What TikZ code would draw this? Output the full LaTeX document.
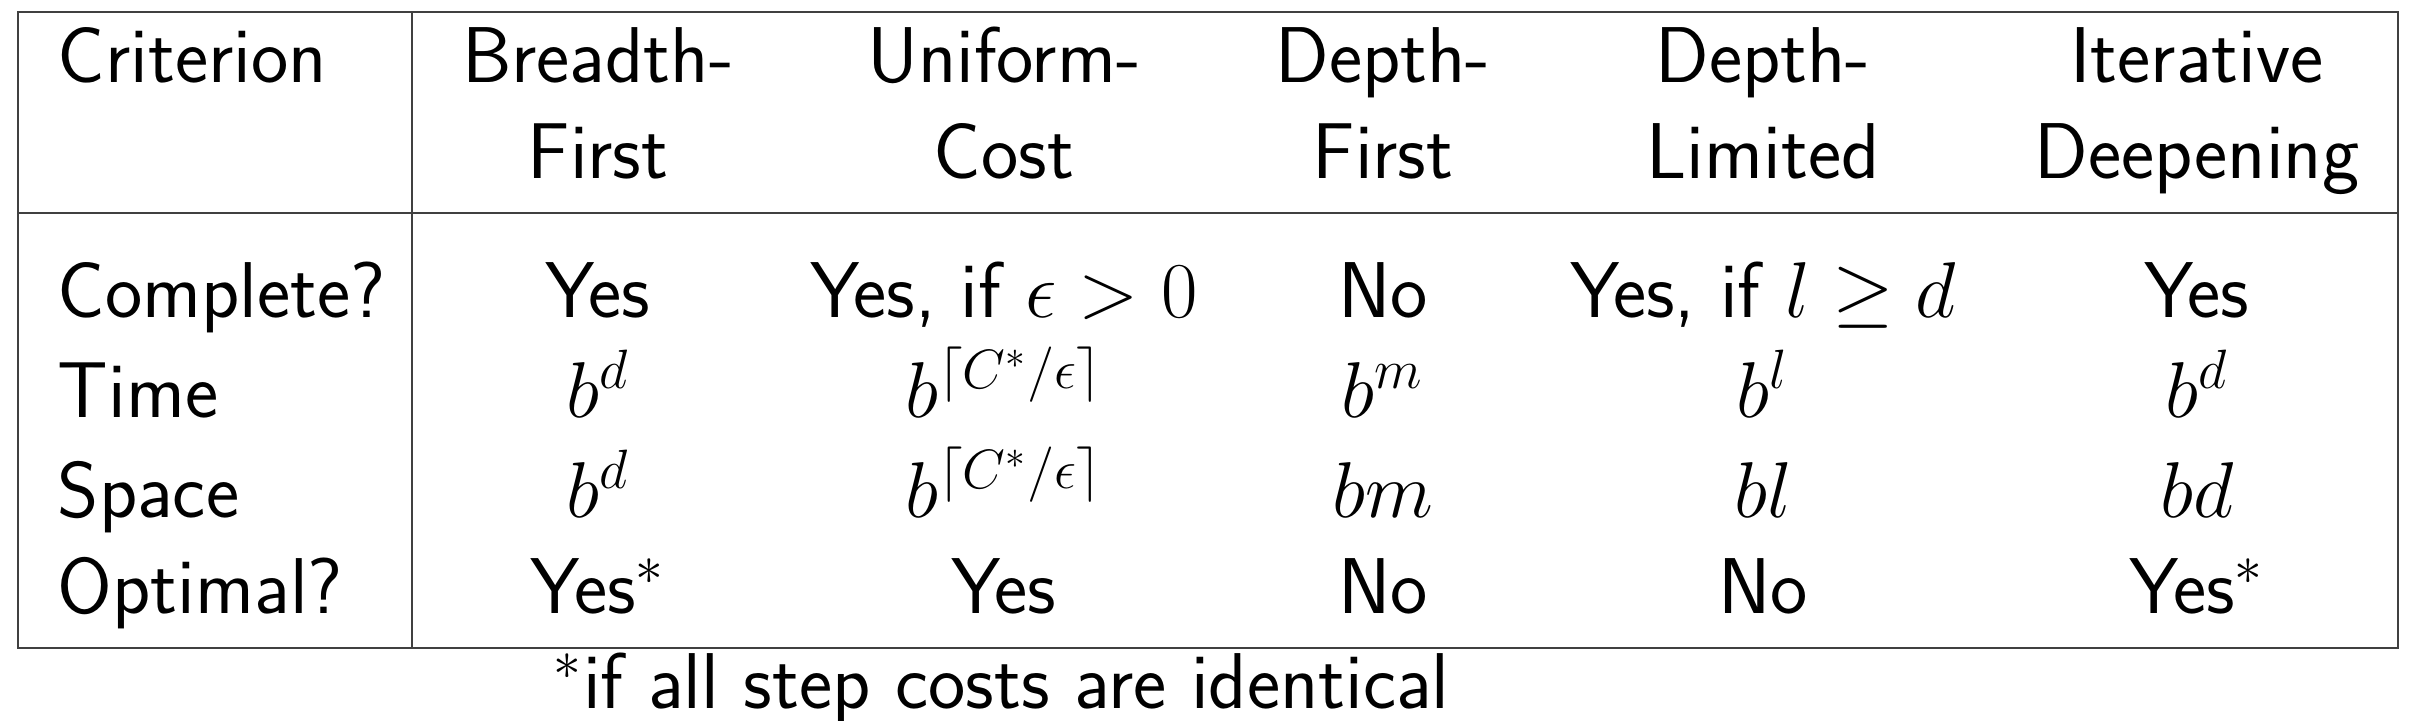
\RequirePackage{fix-cm}
\documentclass[tikz,border=0pt]{standalone}
\begin{document}
\tikzset{
  txt/.style={inner sep=0pt, anchor=base, font=\sffamily\fontsize{22.5}{27}\selectfont},
  lbl/.style={txt, anchor=base west},
  rule/.style={draw=black!75, line width=0.6pt}
}
\begin{tikzpicture}[x=0.01cm,y=-0.01cm]
\useasboundingbox (0,0) rectangle (2410,720);
% frame
\coordinate (tl) at (18,12);
\coordinate (br) at (2398,648);
\coordinate (hl) at (18,213);
\coordinate (hr) at (2398,213);
\coordinate (vt) at (412,12);
\coordinate (vb) at (412,648);
\draw[rule] (tl) rectangle (br);
\draw[rule] (hl) -- (hr);
\draw[rule] (vt) -- (vb);
% header
\node[lbl] (crit) at (57,82) {Criterion};
\node[txt] (bf1) at (598,82) {Breadth-};
\node[txt] (bf2) at (598,178) {First};
\node[txt] (uc1) at (1004,82) {Uniform-};
\node[txt] (uc2) at (1004,178) {Cost};
\node[txt] (df1) at (1383,82) {Depth-};
\node[txt] (df2) at (1383,178) {First};
\node[txt] (dl1) at (1763,82) {Depth-};
\node[txt] (dl2) at (1763,178) {Limited};
\node[txt] (id1) at (2197,82) {Iterative};
\node[txt] (id2) at (2197,178) {Deepening};
% row labels
\node[lbl] (r1) at (57,317) {Complete?};
\node[lbl] (r2) at (57,417) {Time};
\node[lbl] (r3) at (57,517) {Space};
\node[lbl] (r4) at (57,613) {Optimal?};
% Complete?
\node[txt] (c11) at (598,317) {Yes};
\node[txt] (c12) at (1004,317) {Yes, if $\epsilon > 0$};
\node[txt] (c13) at (1383,317) {No};
\node[txt] (c14) at (1763,317) {Yes, if $l \geq d$};
\node[txt] (c15) at (2197,317) {Yes};
% Time
\node[txt] (c21) at (598,417) {$b^d$};
\node[txt] (c22) at (1004,417) {$b^{\lceil C^*/\epsilon\rceil}$};
\node[txt] (c23) at (1383,417) {$b^m$};
\node[txt] (c24) at (1763,417) {$b^l$};
\node[txt] (c25) at (2197,417) {$b^d$};
% Space
\node[txt] (c31) at (598,517) {$b^d$};
\node[txt] (c32) at (1004,517) {$b^{\lceil C^*/\epsilon\rceil}$};
\node[txt] (c33) at (1383,517) {$bm$};
\node[txt] (c34) at (1763,517) {$bl$};
\node[txt] (c35) at (2197,517) {$bd$};
% Optimal?
\node[txt] (c41) at (598,613) {Yes$^*$};
\node[txt] (c42) at (1004,613) {Yes};
\node[txt] (c43) at (1383,613) {No};
\node[txt] (c44) at (1763,613) {No};
\node[txt] (c45) at (2197,613) {Yes$^*$};
% footnote
\node[lbl] (fn) at (553,708) {$^*$if all step costs are identical};
\end{tikzpicture}
\end{document}
